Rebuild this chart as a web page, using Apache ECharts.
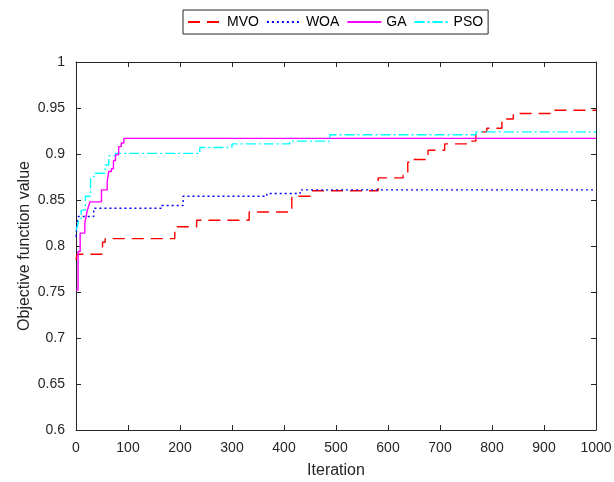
<!DOCTYPE html>
<html><head><meta charset="utf-8">
<script src="https://cdn.jsdelivr.net/npm/echarts@6/dist/echarts.min.js"></script>
<style>html,body{margin:0;padding:0;background:#fff}#c{width:614px;height:482px}</style>
</head><body><div id="c"></div>
<script>
const seriesNames = ['MVO', 'WOA', 'GA', 'PSO'];
const xTicks = [0, 100, 200, 300, 400, 500, 600, 700, 800, 900, 1000];
const yTicks = [0.6, 0.65, 0.7, 0.75, 0.8, 0.85, 0.9, 0.95, 1];
// [iteration, value] step points
const mvo = [[0,0.785],[2,0.791],[51,0.804],[56,0.808],[190,0.821],[232,0.828],[333,0.837],[415,0.854],[451,0.860],[581,0.874],[629,0.877],[638,0.891],[648,0.894],[677,0.904],[709,0.911],[756,0.914],[769,0.924],[790,0.928],[819,0.938],[841,0.944],[915,0.9475],[1000,0.9475]];
const woa = [[0,0.81],[2,0.825],[4,0.832],[34,0.841],[165,0.844],[206,0.854],[367,0.857],[431,0.861],[1000,0.861]];
const ga  = [[0,0.752],[4,0.794],[8,0.814],[17,0.825],[20,0.834],[21,0.837],[24,0.843],[27,0.848],[49,0.861],[60,0.870],[63,0.881],[68,0.884],[72,0.893],[76,0.899],[82,0.908],[87,0.912],[92,0.917],[1000,0.917]];
const pso = [[0,0.817],[3,0.822],[6,0.830],[10,0.839],[18,0.854],[28,0.874],[31,0.876],[37,0.879],[56,0.888],[63,0.898],[76,0.9007],[238,0.907],[300,0.911],[411,0.914],[488,0.921],[769,0.924],[1000,0.924]];

const colors = ['#ff0000', '#0000ff', '#ff00ff', '#00ffff'];
const dashes = [[12, 7], [2, 3], 'solid', [10, 3, 2, 3]];
const datas = [mvo, woa, ga, pso];
const axisCol = '#262626';
const font = 'Liberation Sans, Arial, Helvetica, sans-serif';

const chart = echarts.init(document.getElementById('c'), null, {renderer: 'canvas'});
const fmt = v => String(+(+v).toFixed(2));
chart.setOption({
  animation: false,
  backgroundColor: '#fff',
  textStyle: {fontFamily: font},
  grid: {left: 76, right: 18, top: 62, bottom: 52, containLabel: false, outerBoundsMode: 'none'},
  legend: {
    data: seriesNames,
    left: 183, top: 10,
    orient: 'horizontal',
    borderColor: axisCol, borderWidth: 1,
    padding: [5, 5, 5, 4],
    itemWidth: 34, itemHeight: 12, itemGap: 7,
    itemStyle: {opacity: 0, borderWidth: 0},
    textStyle: {fontSize: 14, color: '#000', fontFamily: font}
  },
  xAxis: [{
    type: 'value', min: xTicks[0], max: xTicks[xTicks.length - 1], interval: 100,
    name: 'Iteration', nameLocation: 'middle', nameGap: 33, nameMoveOverlap: false,
    nameTextStyle: {fontSize: 16, color: axisCol, fontFamily: font},
    axisLine: {show: true, lineStyle: {color: axisCol, width: 1}},
    axisTick: {show: true, inside: true, length: 5, lineStyle: {color: axisCol}},
    axisLabel: {fontSize: 14, color: axisCol, margin: 11, formatter: v => String(v), fontFamily: font},
    splitLine: {show: false}
  }, {
    type: 'value', position: 'top', min: 0, max: 1000, interval: 100,
    axisLine: {show: true, onZero: false, lineStyle: {color: axisCol, width: 1}},
    axisTick: {show: true, inside: true, length: 5, lineStyle: {color: axisCol}},
    axisLabel: {show: false}, splitLine: {show: false}
  }],
  yAxis: [{
    type: 'value', min: yTicks[0], max: yTicks[yTicks.length - 1], interval: 0.05,
    name: 'Objective function value', nameLocation: 'middle', nameGap: 43, nameMoveOverlap: false,
    nameTextStyle: {fontSize: 16, color: axisCol, fontFamily: font},
    axisLine: {show: true, lineStyle: {color: axisCol, width: 1}},
    axisTick: {show: true, inside: true, length: 5, lineStyle: {color: axisCol}},
    axisLabel: {fontSize: 14, color: axisCol, margin: 11, formatter: fmt, fontFamily: font},
    splitLine: {show: false}
  }, {
    type: 'value', position: 'right', min: 0.6, max: 1, interval: 0.05,
    axisLine: {show: true, onZero: false, lineStyle: {color: axisCol, width: 1}},
    axisTick: {show: true, inside: true, length: 5, lineStyle: {color: axisCol}},
    axisLabel: {show: false}, splitLine: {show: false}
  }],
  series: seriesNames.map((n, i) => ({
    name: n, type: 'line', step: 'end', data: datas[i],
    xAxisIndex: 0, yAxisIndex: 0,
    symbol: 'none', showSymbol: false,
    color: colors[i],
    lineStyle: {color: colors[i], width: 1.4, type: dashes[i]},
    z: [1, 2, 4, 3][i]
  }))
});
</script></body></html>
